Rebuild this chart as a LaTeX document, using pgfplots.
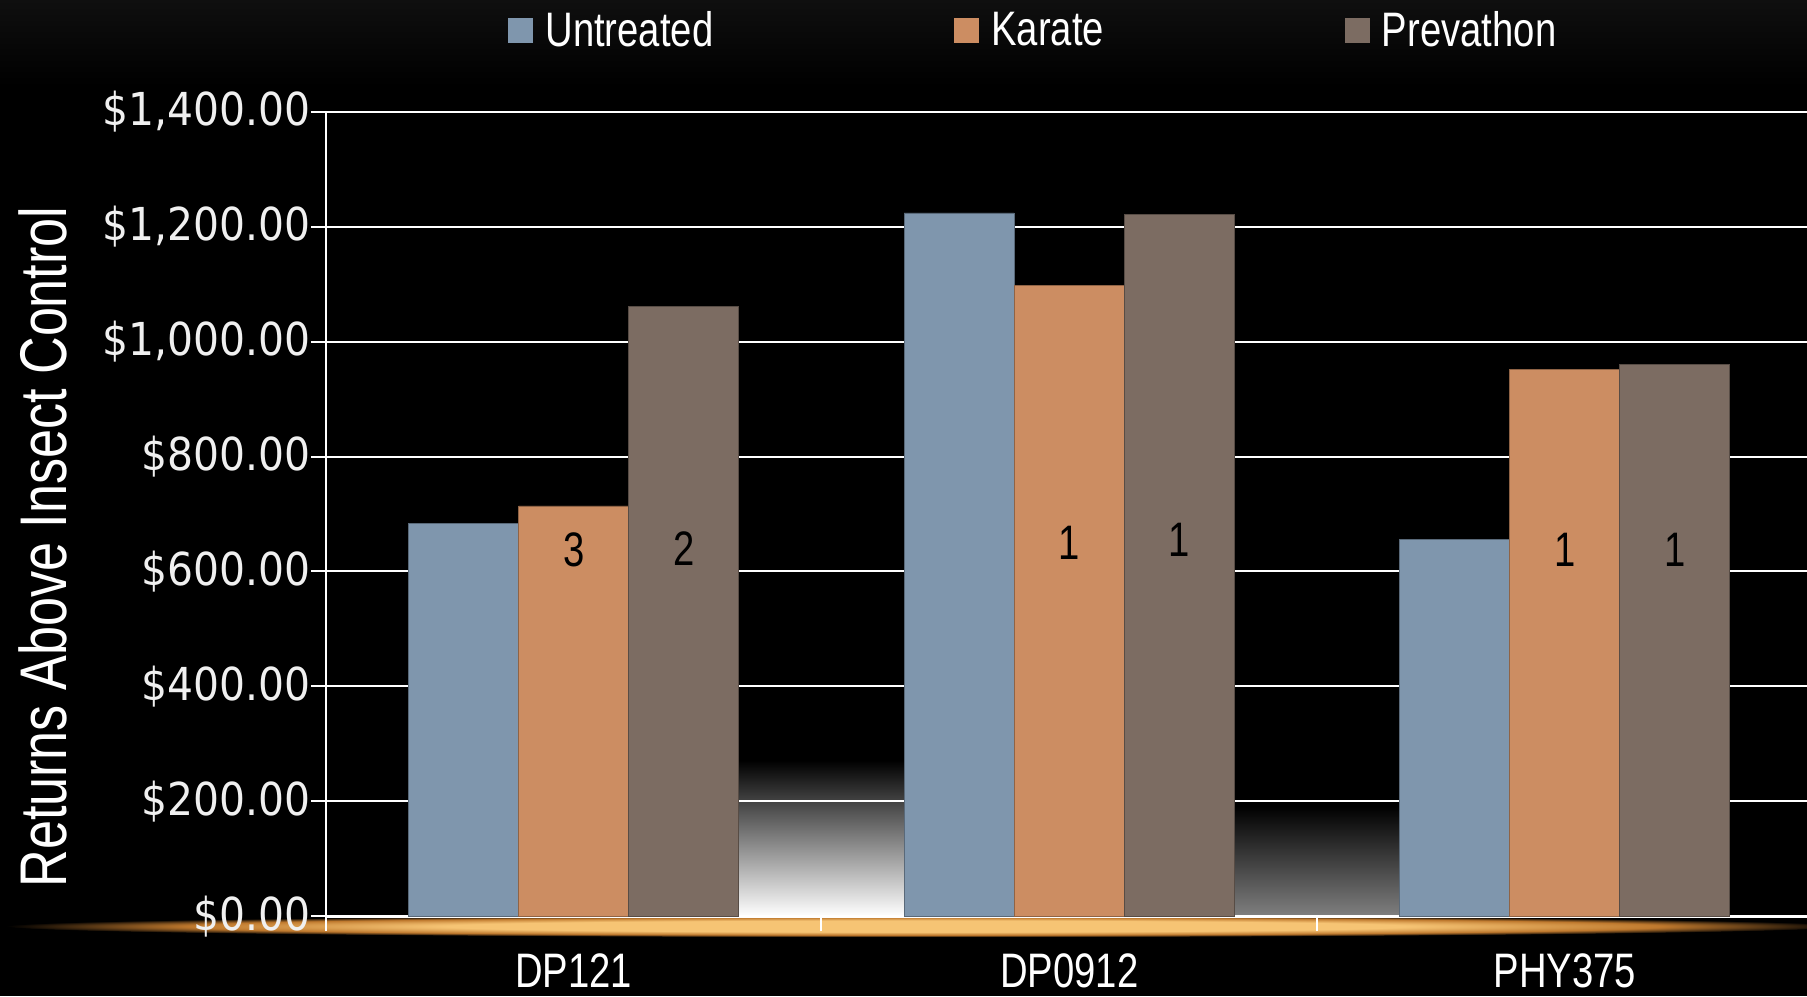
\documentclass[border=0pt]{standalone}
\usepackage{fontspec}
\usepackage{pgfplots}
\usepackage{pgfplotstable}
\pgfplotsset{compat=1.18}
\newfontfamily\narrow[FakeStretch=0.79]{Liberation Sans}
\newfontfamily\tickfont[FakeStretch=0.9]{DejaVu Sans}
\definecolor{untreated}{RGB}{127,150,173}
\definecolor{karate}{RGB}{204,141,98}
\definecolor{prevathon}{RGB}{124,108,98}
\definecolor{glowc}{RGB}{246,196,116}
\definecolor{glowo}{RGB}{190,120,45}
\pgfdeclareradialshading{glow}{\pgfpoint{0bp}{0bp}}{color(0bp)=(glowc); color(13bp)=(glowc); color(20bp)=(glowo); color(25bp)=(black); color(50bp)=(black)}
\pgfplotsset{sqlegend/.style={legend image code/.code={\fill[##1, draw=none] (0pt,-6.25pt) rectangle (12.5pt,6.25pt);}}}

% returns above insect control ($/acre)
\pgfplotstableread{
x untreated karate prevathon
0 684 714 1062
1 1224 1098 1221
2 655 952 961
}\returns

\begin{document}
\begin{tikzpicture}
\fill[black] (-163pt,-39.9pt) rectangle (740.5pt,458.1pt);
\useasboundingbox (-163pt,-39.9pt) rectangle (740.5pt,458.1pt);
\shade[top color={rgb,255:red,15;green,15;blue,15}, bottom color=black] (-163pt,415pt) rectangle (740.5pt,458.1pt);
% floor reflections
\shade[top color=black, middle color=black!60!white, bottom color=white] (206.4pt,0pt) rectangle (289pt,78pt);
\shade[top color=black, bottom color=black!50!white] (454pt,0pt) rectangle (536.5pt,55pt);
\shade[shading=glow] (300pt,-5pt) ellipse [x radius=460pt, y radius=5.5pt];

\begin{axis}[
  at={(0,0)}, anchor=south west,
  width=740.5pt, height=402.2pt, scale only axis,
  xmin=-0.5, xmax=2.489, ymin=0, ymax=1400,
  ybar, bar width=0.222,
  axis lines=left, axis line style={-, white, line width=1pt},
  x axis line style={line width=1.5pt},
  ymajorgrids, grid style={white, line width=1pt},
  tick align=outside, major tick length=7.5pt,
  ytick={0,200,...,1400},
  yticklabels={\$0.00,\$200.00,\$400.00,\$600.00,\$800.00,{\$1,000.00},{\$1,200.00},{\$1,400.00}},
  ytick style={white, line width=1pt},
  xtick={0,1,2}, xticklabels={DP121,DP0912,PHY375},
  xtick style={draw=none},
  extra x ticks={-0.5,0.5,1.5}, extra x tick labels={},
  extra x tick style={xtick style={draw=white, line width=1pt}},
  yticklabel style={font=\tickfont\fontsize{22.7}{27}\selectfont, text=white!94!black, inner sep=0pt},
  xticklabel style={font=\narrow\fontsize{24.2}{29}\selectfont, text=white, yshift=-7.5pt},
  legend columns=3,
  legend style={at={(0.1229,1.1011)}, anchor=west, draw=none, fill=none,
    inner sep=0pt, text=white, font=\narrow\fontsize{24.2}{29}\selectfont,
    /tikz/every odd column/.append style={column sep=4pt},
    /tikz/every even column/.append style={column sep=118.5pt}},
]
\addplot[fill=untreated, draw=untreated!70!black, line width=0.4pt, bar shift=-0.222, sqlegend]
  table[x=x, y=untreated] {\returns};
\addlegendentry{Untreated}
\addplot[fill=karate, draw=karate!70!black, line width=0.4pt, bar shift=0, sqlegend]
  table[x=x, y=karate] {\returns};
\addlegendentry{Karate}
\addplot[fill=prevathon, draw=prevathon!70!black, line width=0.4pt, bar shift=0.222, sqlegend]
  table[x=x, y=prevathon] {\returns};
\addlegendentry{Prevathon}

\begin{scope}[every node/.style={font=\narrow\fontsize{24.2}{29}\selectfont, text=black}]
\node at (axis cs:0,637) {3};
\node at (axis cs:0.222,639) {2};
\node at (axis cs:1,649) {1};
\node at (axis cs:1.222,655) {1};
\node at (axis cs:2,637) {1};
\node at (axis cs:2.222,637) {1};
\end{scope}
\end{axis}

\node[rotate=90, text=white, font=\narrow\fontsize{33}{40}\selectfont] at (-141.7pt,184.6pt) {Returns Above Insect Control};
\end{tikzpicture}
\end{document}
